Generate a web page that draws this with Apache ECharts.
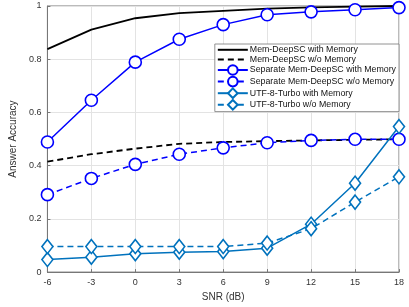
<!DOCTYPE html>
<html><head><meta charset="utf-8">
<script src="https://cdn.jsdelivr.net/npm/echarts@6/dist/echarts.min.js"></script>
<style>html,body{margin:0;padding:0;background:#fff}#c{width:409px;height:307px}</style>
</head><body><div id="c"></div>
<script>
const snr = [-6, -3, 0, 3, 6, 9, 12, 15, 18];
const memWith = [0.838, 0.911, 0.954, 0.973, 0.982, 0.99, 0.995, 0.998, 1.0];
const memWithout = [0.415, 0.443, 0.464, 0.482, 0.489, 0.492, 0.495, 0.497, 0.499];
const sepWith = [0.489, 0.646, 0.789, 0.875, 0.93, 0.967, 0.978, 0.986, 0.994];
const sepWithout = [0.291, 0.352, 0.405, 0.443, 0.467, 0.486, 0.495, 0.499, 0.499];
const utfWith = [0.047, 0.056, 0.069, 0.075, 0.077, 0.09, 0.18, 0.334, 0.547];
const utfWithout = [0.096, 0.096, 0.096, 0.096, 0.096, 0.109, 0.163, 0.263, 0.358];
const names = ['Mem-DeepSC with Memory','Mem-DeepSC w/o Memory','Separate Mem-DeepSC with Memory','Separate Mem-DeepSC w/o Memory','UTF-8-Turbo with Memory','UTF-8-Turbo w/o Memory'];

const pair = arr => snr.map((x, i) => [x, arr[i]]);
const dash = [6, 4];
function mk(name, data, color, type, symbol, size, width) {
  return {
    name, type: 'line', data: pair(data), symbol: symbol || 'circle', symbolSize: size || 0,
    showSymbol: !!symbol,
    lineStyle: {color, width: width, type},
    itemStyle: symbol ? {color: '#fff', borderColor: color, borderWidth: 1.6}
                      : {color: 'rgba(0,0,0,0)', borderColor: 'rgba(0,0,0,0)', borderWidth: 0},
    emphasis: {disabled: true}, animation: false, z: 3
  };
}
const axisCol = '#777';
const chart = echarts.init(document.getElementById('c'));
chart.setOption({
  animation: false,
  backgroundColor: '#fff',
  grid: {left: 39, right: 10, top: 6, bottom: 31, show: true, borderColor: axisCol, borderWidth: 1},
  xAxis: {
    type: 'value', min: -6, max: 18, interval: 3,
    name: 'SNR (dB)', nameLocation: 'middle', nameGap: 18,
    nameTextStyle: {fontFamily: 'Liberation Sans', fontSize: 10, color: '#333'},
    axisLine: {onZero: false, lineStyle: {color: axisCol}},
    axisTick: {inside: true, length: 3, lineStyle: {color: axisCol}},
    axisLabel: {fontFamily: 'Liberation Sans', fontSize: 9, color: '#333', margin: 6},
    splitLine: {show: true, lineStyle: {color: '#e3e3e3'}}
  },
  yAxis: {
    type: 'value', min: 0, max: 1, interval: 0.2,
    name: 'Answer Accuracy', nameLocation: 'middle', nameGap: 25,
    nameTextStyle: {fontFamily: 'Liberation Sans', fontSize: 10, color: '#333'},
    axisLine: {onZero: false, lineStyle: {color: axisCol}},
    axisTick: {inside: true, length: 3, lineStyle: {color: axisCol}},
    axisLabel: {fontFamily: 'Liberation Sans', fontSize: 9, color: '#333', margin: 6,
      formatter: v => String(Math.round(v * 10) / 10)},
    splitLine: {show: true, lineStyle: {color: '#e3e3e3'}}
  },
  legend: {
    data: names, orient: 'vertical', right: 10, top: 44,
    itemWidth: 30, itemHeight: 12, itemGap: 0,
    backgroundColor: '#fff', borderColor: axisCol, borderWidth: 0.8,
    padding: [1, 3, 1, 2],
    textStyle: {fontFamily: 'Liberation Sans', fontSize: 8.8, color: '#111', padding: [0, 0, 0, -3]},
    selectedMode: false
  },
  series: [
    mk(names[0], memWith, '#000', 'solid', null, 0, 1.8),
    mk(names[1], memWithout, '#000', dash, null, 0, 1.8),
    mk(names[2], sepWith, '#0000ff', 'solid', 'circle', 12, 1.5),
    mk(names[3], sepWithout, '#0000ff', dash, 'circle', 12, 1.5),
    mk(names[4], utfWith, '#0072bd', 'solid', 'diamond', [11, 14], 1.5),
    mk(names[5], utfWithout, '#0072bd', dash, 'diamond', [11, 14], 1.5)
  ]
});
</script></body></html>
